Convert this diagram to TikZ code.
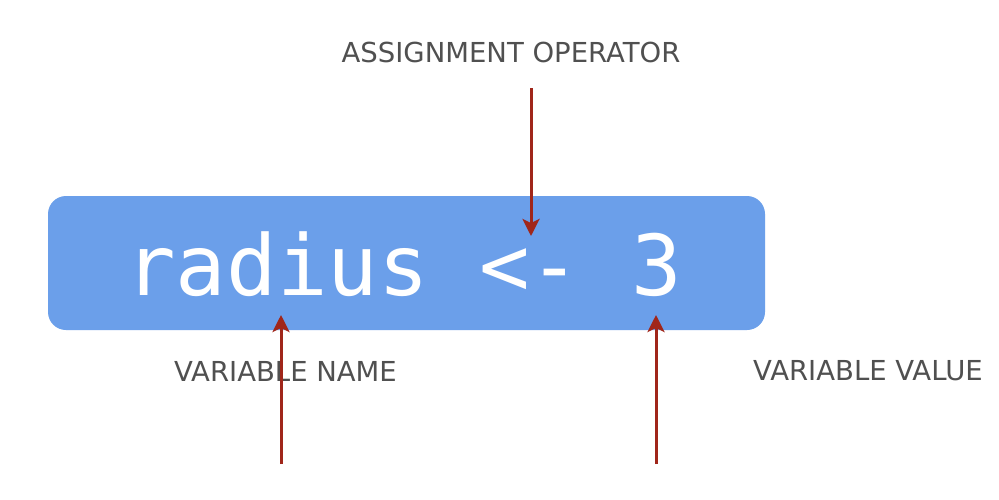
\documentclass[tikz,border=0pt]{standalone}
\usepackage{fontspec}
\setmainfont{DejaVu Sans}
\newfontfamily\codefont{DejaVu Sans Mono}
\usetikzlibrary{arrows.meta}
\definecolor{boxblue}{HTML}{6B9FEA}
\definecolor{arrowred}{HTML}{A0261A}
\definecolor{labelgray}{HTML}{505050}
\tikzset{
  codebox/.style={fill=boxblue, rounded corners=18pt, draw=none},
  pointer/.style={draw=arrowred, line width=3pt, -{Stealth[length=17pt,width=17pt,inset=4pt]}},
  lbl/.style={text=labelgray, font=\fontsize{27.5}{32}\selectfont, inner sep=0pt}
}
\begin{document}
\begin{tikzpicture}[x=1pt,y=-1pt]
\useasboundingbox (0,0) rectangle (999,499);
\fill[white] (0,0) rectangle (999,499);
\path[codebox] (48,196) rectangle (765,330);
\node[text=white, font=\codefont\fontsize{84}{90}\selectfont, inner sep=0pt, anchor=base] (code) at (403.5,295) {radius <- 3};
\node[lbl] (op) at (511,52) {ASSIGNMENT OPERATOR};
\node[lbl] (vn) at (285.5,371) {VARIABLE NAME};
\node[lbl] (vv) at (868,371) {VARIABLE VALUE};
\coordinate (opS) at (531,88);
\coordinate (opE) at (531,236);
\coordinate (vnS) at (281,464);
\coordinate (vnE) at (281,315);
\coordinate (vvS) at (656,464);
\coordinate (vvE) at (656,315);
\draw[pointer] (opS) -- (opE);
\draw[pointer] (vnS) -- (vnE);
\draw[pointer] (vvS) -- (vvE);
\end{tikzpicture}
\end{document}
